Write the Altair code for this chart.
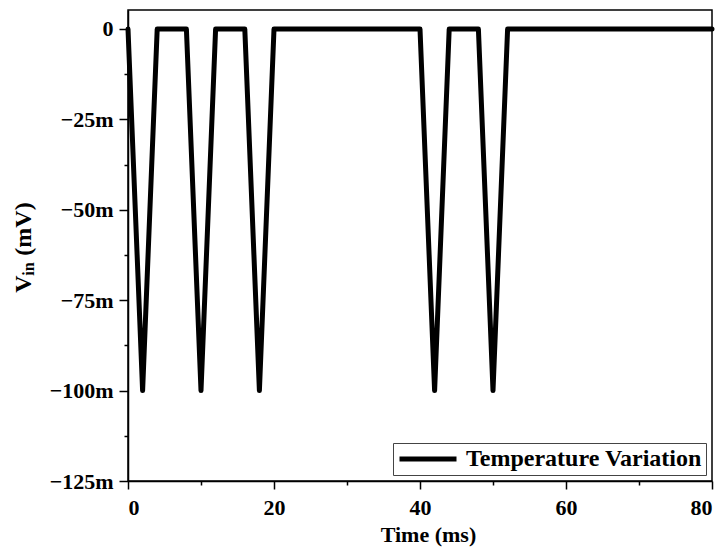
import altair as alt
import pandas as pd

# Pulse waveform (time in ms, Vin in m-units)
time_ms = [0, 2, 4, 8, 10, 12, 16, 18, 20, 40, 42, 44, 48, 50, 52, 80]
vin_m = [0, -100, 0, 0, -100, 0, 0, -100, 0, 0, -100, 0, 0, -100, 0, 0]
series_name = "Temperature Variation"

x_major = [0, 20, 40, 60, 80]
x_minor = [10, 30, 50, 70]
y_major = [0, -25, -50, -75, -100, -125]
y_minor = [-12.5, -37.5, -62.5, -87.5, -112.5]

title_parts = ["V", "in", "(mV)"]

df = pd.DataFrame({"t": time_ms, "v": vin_m, "s": [series_name] * len(time_ms)})

FONT = "Liberation Serif"
xscale = alt.Scale(domain=[0, 80], nice=False, zero=False)
yscale = alt.Scale(domain=[-125, 5.25], nice=False, zero=False)

line = alt.Chart(df).mark_line(
    strokeWidth=5, strokeCap="round", strokeJoin="round"
).encode(
    x=alt.X("t:Q", scale=xscale, axis=alt.Axis(
        values=x_major, orient="bottom", title="Time (ms)", format="d",
        labelFontSize=22, titleFontSize=22, tickSize=8, labelPadding=8,
        titlePadding=6, titleX=300)),
    y=alt.Y("v:Q", scale=yscale, axis=alt.Axis(
        values=y_major, orient="left", title=None, labelFontSize=22,
        labelExpr="datum.value == 0 ? '0' : '\u2212' + abs(datum.value) + 'm'",
        tickSize=9, labelPadding=6)),
    color=alt.Color("s:N", scale=alt.Scale(range=["black"]), legend=alt.Legend(
        title=None, orient="bottom-right", offset=6, symbolType="M-1,0H5",
        symbolSize=361, symbolStrokeWidth=5, labelFontSize=24,
        labelFont=FONT, labelFontWeight="bold", labelColor="black",
        labelLimit=500, strokeColor="#444", padding=4, labelOffset=45,
        fillColor="white")),
)

minor = alt.Chart(df).mark_line(opacity=0).encode(
    x=alt.X("t:Q", scale=xscale, axis=alt.Axis(
        values=x_minor, orient="bottom", title=None, labels=False,
        domain=False, tickSize=4)),
    y=alt.Y("v:Q", scale=yscale, axis=alt.Axis(
        values=y_minor, orient="left", title=None, labels=False,
        domain=False, tickSize=4)),
)

def tpart(txt, x, y, size):
    return alt.Chart(pd.DataFrame({"k": [txt]})).mark_text(
        angle=270, align="center", baseline="middle", font=FONT,
        fontWeight="bold", fontSize=size, color="black"
    ).encode(text="k:N", x=alt.value(x), y=alt.value(y))

t1 = tpart(title_parts[0], -104, 274, 24)
t2 = tpart(title_parts[1], -99, 259, 16)
t3 = tpart(title_parts[2], -104, 219, 24)

chart = alt.layer(line, minor, t1, t2, t3).resolve_axis(
    x="independent", y="independent"
).properties(
    width=584, height=471,
    autosize=alt.AutoSizeParams(type="none"),
    padding={"left": 128, "top": 10, "right": 16, "bottom": 73},
).configure_view(
    stroke="black", strokeWidth=1.5
).configure_axis(
    labelFont=FONT, titleFont=FONT, labelFontWeight="bold",
    titleFontWeight="bold", labelColor="black", titleColor="black",
    domainColor="black", tickColor="black", domainWidth=1.5, tickWidth=1.5,
    grid=False
)

chart.save("out.html", embed_options={"renderer": "svg", "actions": False})
